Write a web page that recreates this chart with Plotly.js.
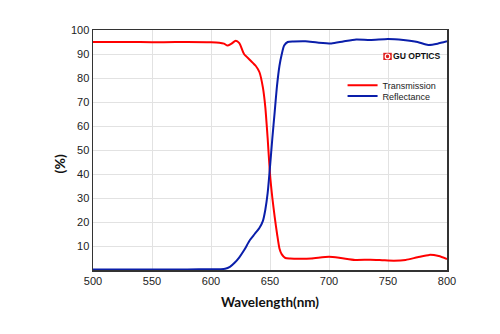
<!DOCTYPE html>
<html><head><meta charset="utf-8">
<script src="https://cdn.plot.ly/plotly-3.0.1.min.js"></script>
<style>html,body{margin:0;padding:0;background:#fff;}#chart{width:500px;height:334px;}</style>
</head><body><div id="chart"></div>
<script>
const wlT = [500,520,540,560,580,600,607,611,614,617,621,624,628,633,638,641,644,646,648,650,652,654,656,658,660,663,667,675,685,700,710,722,735,745,755,765,775,785,793,800];
const transmission = [95,95,95,94.9,95,94.9,94.7,94.3,93.5,94.2,95.5,94.5,90,87.5,85,82.5,76,68,55,40,30,22,15,9,6.5,5,4.8,4.7,4.8,5.5,5,4.2,4.3,4.1,3.9,4.2,5.3,6.3,5.8,4.6];
const wlR = [500,520,540,560,580,600,608,612,616,620,624,628,633,637,641,644,646,648,650,652,654,656,658,660,662,665,670,680,690,702,712,723,735,750,763,775,784,792,800];
const reflectance = [0.2,0.2,0.2,0.2,0.25,0.3,0.35,0.5,1.3,3,5.3,8.2,12.5,15,17.5,20.5,25,32,43,55,66,77,85,90,93.5,95,95.2,95.3,94.8,94.4,95.2,96,95.8,96.2,95.8,95,93.8,94.3,95.3];
const seriesNames = ['Transmission','Reflectance'];
const xTicks = [500,550,600,650,700,750,800];
const yTicks = [10,20,30,40,50,60,70,80,90,100];

const traces = [
  {x: wlT, y: transmission, name: seriesNames[0], legend: 'legend', mode: 'lines', line: {color: '#ff0000', width: 2, shape: 'spline', smoothing: 0.6}},
  {x: wlR, y: reflectance, name: seriesNames[1], legend: 'legend2', mode: 'lines', line: {color: '#0a1eaa', width: 2, shape: 'spline', smoothing: 0.6}}
];
const legendFont = {family: 'Liberation Sans, Arial, sans-serif', size: 9, color: '#222'};
const axisCommon = {showline: true, linecolor: '#333', linewidth: 1.5, mirror: true, gridcolor: '#e2e2e2', gridwidth: 1, zeroline: false, ticks: '', tickfont: {family: 'Liberation Sans, Arial, sans-serif', size: 11, color: '#222'}};
const layout = {
  width: 500, height: 334,
  margin: {l: 93, r: 53, t: 30, b: 64},
  paper_bgcolor: '#fff', plot_bgcolor: '#fff',
  showlegend: true,
  legend: {x: 0.705, y: 0.83, xanchor: 'left', yanchor: 'top', bgcolor: 'rgba(0,0,0,0)', font: legendFont, itemwidth: 30, borderwidth: 0},
  legend2: {x: 0.705, y: 0.785, xanchor: 'left', yanchor: 'top', bgcolor: 'rgba(0,0,0,0)', font: legendFont, itemwidth: 30, borderwidth: 0},
  xaxis: Object.assign({}, axisCommon, {range: [500, 800], tickvals: xTicks, title: {text: 'Wavelength(nm)', font: {family: 'Lato, Open Sans, sans-serif', size: 13.5, color: '#111', weight: 'bold'}, standoff: 12}}),
  yaxis: Object.assign({}, axisCommon, {range: [0, 100], tickvals: yTicks}),
  shapes: [
    {type: 'rect', xref: 'paper', yref: 'paper', layer: 'below', x0: 0.746, x1: 0.972, y0: 0.683, y1: 0.8125, fillcolor: '#fff', line: {width: 0}},
    {type: 'rect', xref: 'paper', yref: 'paper', x0: 0.82, x1: 0.844, y0: 0.875, y1: 0.905, fillcolor: '#e02020', line: {width: 0}},
    {type: 'circle', xref: 'paper', yref: 'paper', x0: 0.8255, x1: 0.8385, y0: 0.88, y1: 0.90, fillcolor: 'rgba(0,0,0,0)', line: {color: '#fff', width: 1.2}}
  ],
  annotations: [
    {xref: 'paper', yref: 'paper', x: 0.843, y: 0.89, xanchor: 'left', yanchor: 'middle', showarrow: false, text: '<b>GU OPTICS</b>', font: {family: 'Liberation Sans, Arial, sans-serif', size: 8.6, color: '#111'}},
    {xref: 'paper', yref: 'paper', x: -0.096, y: 0.44, xanchor: 'center', yanchor: 'middle', textangle: -90, showarrow: false, text: '<b>(%)</b>', font: {family: 'Lato, Open Sans, sans-serif', size: 14, color: '#111'}}
  ]
};
Plotly.newPlot('chart', traces, layout, {displayModeBar: false, staticPlot: true});
</script></body></html>
